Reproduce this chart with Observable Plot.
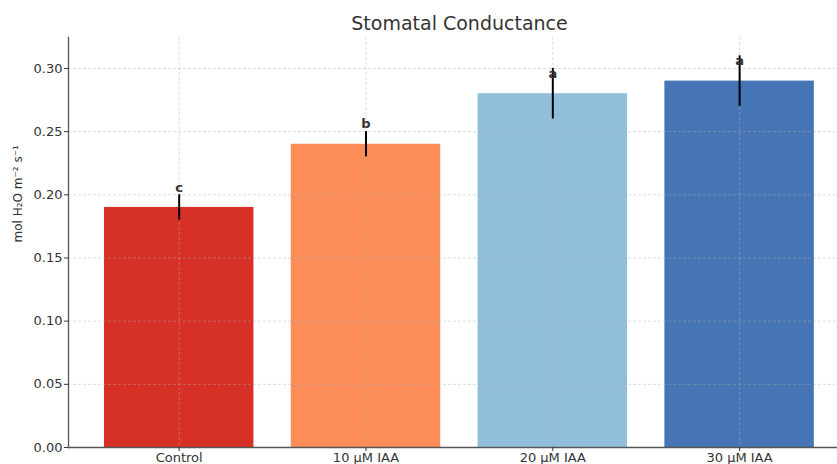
<!DOCTYPE html>
<html>
<head>
<meta charset="utf-8">
<script src="https://cdn.jsdelivr.net/npm/d3@7"></script>
<script src="https://cdn.jsdelivr.net/npm/@observablehq/plot@0.6"></script>
<style>
  html, body { margin: 0; padding: 0; background: #fff; }
  svg { display: block; }
</style>
</head>
<body>
<div id="chart"></div>
<script>
const categories = ["Control", "10 µM IAA", "20 µM IAA", "30 µM IAA"];
const means = [0.19, 0.24, 0.28, 0.29];
const errors = [0.01, 0.01, 0.02, 0.02];
const letters = ["c", "b", "a", "a"];
const colors = ["#d73027", "#fc8d59", "#91bfdb", "#4575b4"];
const yTicks = [0, 0.05, 0.10, 0.15, 0.20, 0.25, 0.30];
const title = "Stomatal Conductance";
const yLabel = "mol H₂O m⁻² s⁻¹";

const data = categories.map((c, i) => ({
  cat: c, mean: means[i], err: errors[i], letter: letters[i], color: colors[i]
}));

const font = "DejaVu Sans, sans-serif";
const gridStyle = {stroke: "#b0b0b0", strokeOpacity: 0.55, strokeWidth: 0.8, strokeDasharray: "3,2"};

const chart = Plot.plot({
  width: 837,
  height: 464,
  marginLeft: 68,
  marginRight: 0,
  marginTop: 37,
  marginBottom: 17,
  style: {fontFamily: font, color: "#333", background: "#fff"},
  x: {domain: categories, range: [66.6, 851.2], padding: 0.2, round: false, label: null},
  y: {domain: [0, 0.3245], label: null},
  color: {type: "identity"},
  marks: [
    Plot.barY(data, {x: "cat", y: "mean", fill: "color", inset: 0}),
    Plot.gridY(yTicks, gridStyle),
    Plot.gridX(categories, gridStyle),
    Plot.ruleX(data, {x: "cat", y1: d => d.mean - d.err, y2: d => d.mean + d.err, stroke: "#000", strokeWidth: 2}),
    Plot.text(data, {x: "cat", y: "mean", text: "letter", dy: -20, fontWeight: "bold", fontSize: 13, fill: "#333"}),
    Plot.frame({anchor: "left", stroke: "#555", strokeWidth: 1.3}),
    Plot.frame({anchor: "bottom", stroke: "#555", strokeWidth: 1.3}),
    Plot.axisY(yTicks, {tickSize: 4, tickPadding: 2, tickFormat: d3.format(".2f"), fontSize: 13, stroke: "#333", label: null}),
    Plot.axisX({tickSize: 4, tickPadding: 1, fontSize: 13, stroke: "#333", label: null}),
    Plot.text([title], {frameAnchor: "top", dy: -14, dx: 6.5, fontSize: 19, fill: "#333", lineAnchor: "middle"}),
    Plot.text([yLabel], {frameAnchor: "left", rotate: -90, dx: -50, fontSize: 12, fill: "#333"})
  ]
});
document.getElementById("chart").appendChild(chart);
</script>
</body>
</html>
